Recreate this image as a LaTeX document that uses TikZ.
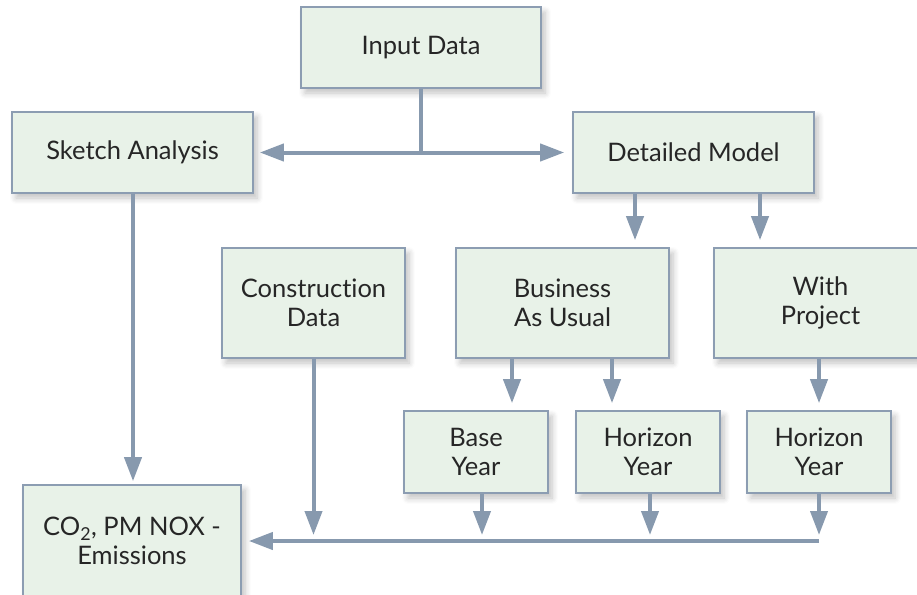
\documentclass[tikz,border=0pt]{standalone}
\usepackage{fontspec}
\setmainfont{Lato}[Ligatures={NoCommon}]
\usetikzlibrary{arrows.meta,shadows.blur}
\definecolor{boxfill}{HTML}{E8F2E8}
\definecolor{boxline}{HTML}{8C9DB2}
\definecolor{arrcol}{HTML}{8799AE}
\definecolor{txt}{HTML}{262626}
\tikzset{
  box/.style={draw=boxline, line width=1.6pt, fill=boxfill, rectangle, align=center,
    inner sep=0pt, text=txt, font=\fontsize{25.5}{29}\selectfont,
    blur shadow={shadow xshift=4pt, shadow yshift=-5pt, shadow blur steps=6, shadow opacity=25, shadow blur radius=6pt}},
  conn/.style={draw=arrcol, line width=4pt},
  arr/.style={conn, -{Triangle[length=24pt,width=17pt]}},
}
\begin{document}
\begin{tikzpicture}[x=1pt,y=-1pt]
\useasboundingbox (0,0) rectangle (917,594);
\clip (0,0) rectangle (917,594);
\node[box, minimum width=240pt, minimum height=81pt] (inp) at (421,47.5) {Input Data};
\node[box, minimum width=241pt, minimum height=81pt] (sk) at (132.5,152.5) {Sketch Analysis};
\node[box, minimum width=241pt, minimum height=81pt] (det) at (693.5,152.5) {Detailed Model};
\node[box, minimum width=183pt, minimum height=110pt] (con) at (313.5,303) {Construction\\Data};
\node[box, minimum width=213pt, minimum height=110pt] (bau) at (562.5,303) {Business\\As Usual};
\node[box, minimum width=213pt, minimum height=110pt] (wp) at (820.5,303) {With\\Project};
\node[box, minimum width=144pt, minimum height=82pt] (base) at (476,452) {Base\\Year};
\node[box, minimum width=144pt, minimum height=82pt] (hz1) at (648,452) {Horizon\\Year};
\node[box, minimum width=144pt, minimum height=82pt] (hz2) at (819,452) {Horizon\\Year};
\node[box, minimum width=218pt, minimum height=112pt] (co2) at (132,541) {CO\textsubscript{2}, PM NOX -\\Emissions};
% connectors
\coordinate (split) at (421,152.5);
\coordinate (bus) at (819,541);
\draw[conn] (inp.south) -- (split);
\draw[arr, shorten >=6pt] (split) -- (sk.east);
\draw[arr, shorten >=8pt] (split) -- (det.west);
\draw[arr, shorten >=7pt] (det.south -| 635,0) -- (bau.north -| 635,0);
\draw[arr, shorten >=7pt] (det.south -| 760,0) -- (wp.north -| 760,0);
\draw[arr, shorten >=7pt] (bau.south -| 512,0) -- (base.north -| 512,0);
\draw[arr, shorten >=7pt] (bau.south -| 612,0) -- (hz1.north -| 612,0);
\draw[arr, shorten >=7pt] (wp.south -| bus) -- (hz2.north -| bus);
\draw[arr, shorten >=3pt] (sk.south -| 133,0) -- (co2.north -| 133,0);
\draw[conn, line cap=butt] (bus) -- (con.south |- bus);
\draw[arr, shorten >=7pt] (con.south |- bus) -- (co2.east);
\draw[arr, shorten >=6pt] (con.south) -- (con.south |- bus);
\draw[arr, shorten >=6pt] (base.south -| 482,0) -- (bus -| 482,0);
\draw[arr, shorten >=6pt] (hz1.south -| 650,0) -- (bus -| 650,0);
\draw[arr, shorten >=6pt] (hz2.south -| bus) -- (bus);
\end{tikzpicture}
\end{document}
